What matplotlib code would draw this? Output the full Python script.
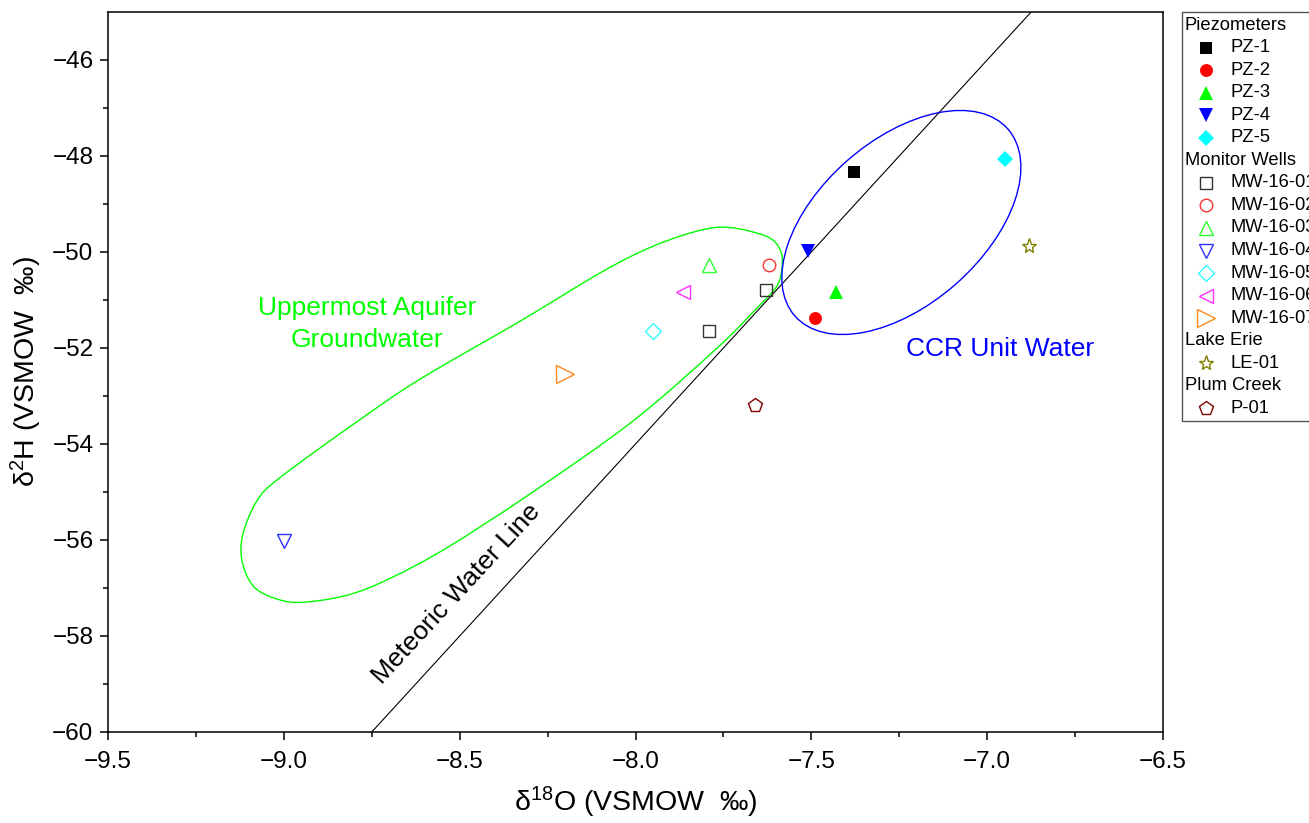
import numpy as np
import matplotlib
matplotlib.use("Agg")
import matplotlib.pyplot as plt
from matplotlib.lines import Line2D
from matplotlib.patches import Ellipse, PathPatch, Rectangle
from matplotlib.path import Path
from matplotlib.transforms import Affine2D

plt.rcParams["font.family"] = ["Liberation Sans", "DejaVu Sans"]
plt.rcParams["mathtext.fontset"] = "custom"
plt.rcParams["mathtext.rm"] = "Liberation Sans"
plt.rcParams["mathtext.it"] = "Liberation Sans:italic"

# --- data (delta18O, delta2H, per mil VSMOW) ---
pz_names = ["PZ-1", "PZ-2", "PZ-3", "PZ-4", "PZ-5"]
pz_d18o = [-7.38, -7.49, -7.43, -7.51, -6.95]
pz_d2h = [-48.33, -51.38, -50.84, -49.97, -48.06]

mw_names = ["MW-16-01", "MW-16-02", "MW-16-03", "MW-16-04", "MW-16-05", "MW-16-06", "MW-16-07"]
mw_d18o = [[-7.63, -7.79], [-7.62], [-7.79], [-9.00], [-7.95], [-7.865], [-8.20]]
mw_d2h = [[-50.80, -51.65], [-50.28], [-50.28], [-56.03], [-51.65], [-50.84], [-52.54]]

le_names = ["LE-01"]
le_d18o = [-6.88]
le_d2h = [-49.88]

pc_names = ["P-01"]
pc_d18o = [-7.66]
pc_d2h = [-53.19]

# global meteoric water line: d2H = 8 * d18O + 10
mwl_slope = 8.0
mwl_intercept = 10.0

# outline drawn around the uppermost aquifer samples
aquifer_x = [-7.950, -7.817, -7.731, -7.626, -7.589, -7.583, -7.598, -7.655, -7.768,
             -8.007, -8.300, -8.536, -8.698, -8.820, -8.954, -9.031, -9.088, -9.119,
             -9.116, -9.076, -9.011, -8.789, -8.613, -8.328, -8.092]
aquifer_y = [-49.88, -49.55, -49.49, -49.68, -49.95, -50.30, -50.71, -51.17, -52.00,
             -53.52, -55.04, -56.16, -56.80, -57.15, -57.30, -57.20, -56.95, -56.43,
             -55.87, -55.18, -54.70, -53.52, -52.65, -51.44, -50.40]

# ellipse around the CCR unit samples (centre in data units, axes in screen pixels)
ccr_center = (-7.244, -49.385)
ccr_size_px = (283.4, 164.4)
ccr_angle = 41.25

# marker styles: (marker, colour, size)
pz_styles = [("s", "#000000", 9.0), ("o", "#FF0000", 9.3), ("^", "#00FF00", 10.5),
             ("v", "#0000FF", 10.5), ("D", "#00FFFF", 8.3)]
mw_styles = [("s", "#333333", 8.8), ("o", "#FF3030", 9.0), ("^", "#30FF30", 10.5),
             ("v", "#3030FF", 10.5), ("D", "#30FFFF", 8.3), ("<", "#FF30FF", 10.5),
             (">", "#FF8A1F", 13.0)]
le_style = ("*", "#808000", 11.0)
pc_style = ("p", "#800000", 10.5)

W, H = 1309, 823
fig = plt.figure(figsize=(W / 100, H / 100), dpi=100)
ax = fig.add_axes([108 / W, 1 - 732 / H, (1163 - 108) / W, (732 - 12) / H])

xmin, xmax = -9.5, -6.5
ymin, ymax = -60.0, -45.0
ax.set_xlim(xmin, xmax)
ax.set_ylim(ymin, ymax)


def smooth_closed_path(xs, ys):
    # closed Catmull-Rom curve written as cubic Bezier segments
    pts = np.column_stack([xs, ys])
    n = len(pts)
    verts = [pts[0]]
    codes = [Path.MOVETO]
    for i in range(n):
        p0, p1, p2, p3 = pts[i - 1], pts[i], pts[(i + 1) % n], pts[(i + 2) % n]
        verts += [p1 + (p2 - p0) / 6, p2 - (p3 - p1) / 6, p2]
        codes += [Path.CURVE4] * 3
    return Path(verts, codes)


# meteoric water line
mwl_x = np.array([xmin, xmax])
ax.plot(mwl_x, mwl_slope * mwl_x + mwl_intercept, color="black", lw=0.8, zorder=2)

# outlines
ax.add_patch(PathPatch(smooth_closed_path(aquifer_x, aquifer_y), facecolor="none",
                       edgecolor="#00FF00", lw=1.0, zorder=2))
sx = (1163 - 108) / (xmax - xmin)
sy = (732 - 12) / (ymax - ymin)
ell_tr = Affine2D().scale(1 / sx, 1 / sy).translate(*ccr_center) + ax.transData
ax.add_patch(Ellipse((0, 0), ccr_size_px[0], ccr_size_px[1], angle=ccr_angle,
                     facecolor="none", edgecolor="#0000FF", lw=1.0, transform=ell_tr, zorder=2))


def draw(x, y, style, filled):
    m, c, s = style
    ax.plot(x, y, ls="none", marker=m, ms=s, mec=c, mfc=c if filled else "none",
            mew=0.0 if filled else 1.0, zorder=3, clip_on=False)


for i in range(len(pz_names)):
    draw([pz_d18o[i]], [pz_d2h[i]], pz_styles[i], True)
for i in range(len(mw_names)):
    draw(mw_d18o[i], mw_d2h[i], mw_styles[i], False)
draw(le_d18o, le_d2h, le_style, False)
draw(pc_d18o, pc_d2h, pc_style, False)

# annotations
ax.text(-8.764, -51.5, "Uppermost Aquifer\nGroundwater", color="#00FF00", fontsize=19,
        ha="center", va="center", linespacing=1.4)
ax.text(-6.964, -52.02, "CCR Unit Water", color="#0000FF", fontsize=19,
        ha="center", va="center")
ax.text(-8.51, -57.125, "Meteoric Water Line", color="black", fontsize=19,
        ha="center", va="center", rotation=47.3, rotation_mode="anchor")

# axes styling
ax.set_xticks(np.arange(-9.5, -6.49, 0.5))
ax.set_xticks(np.arange(-9.5, -6.49, 0.25), minor=True)
ax.set_yticks(np.arange(-60, -45, 2))
ax.set_yticks(np.arange(-60, -45, 1), minor=True)
ax.tick_params(which="both", direction="out", width=1.1, labelsize=17.5, top=False, right=False)
ax.tick_params(which="major", length=6)
ax.tick_params(which="minor", length=3.6)
ax.tick_params(axis="x", pad=7.5)
ax.tick_params(axis="y", pad=4.5)
for sp in ax.spines.values():
    sp.set_linewidth(1.1)
ax.xaxis.set_major_formatter(matplotlib.ticker.FuncFormatter(lambda v, p: f"{v:.1f}".replace("-", "\u2212")))

ax.set_xlabel("\u03b4$^{18}$O (VSMOW  \u2030)", fontsize=20.5, labelpad=9)
ax.set_ylabel("\u03b4$^{2}$H (VSMOW  \u2030)", fontsize=20.5, labelpad=6)

# legend drawn in figure pixel space
def fx(px):
    return px / W


def fy(py):
    return 1 - py / H


fig.add_artist(Rectangle((fx(1182), fy(421)), fx(1330) - fx(1182), fy(12) - fy(421),
                         transform=fig.transFigure, facecolor="white", edgecolor="#555555",
                         lw=1.0, clip_on=False))

legend_rows = [("Piezometers", None, None)]
legend_rows += [(n, s, True) for n, s in zip(pz_names, pz_styles)]
legend_rows += [("Monitor Wells", None, None)]
legend_rows += [(n, s, False) for n, s in zip(mw_names, mw_styles)]
legend_rows += [("Lake Erie", None, None), (le_names[0], le_style, False)]
legend_rows += [("Plum Creek", None, None), (pc_names[0], pc_style, False)]

row_y = 25.0
for label, style, filled in legend_rows:
    if style is None:
        fig.text(fx(1185), fy(row_y), label, fontsize=13.2, ha="left", va="center")
    else:
        m, c, s = style
        fig.add_artist(Line2D([fx(1206)], [fy(row_y)], transform=fig.transFigure, ls="none",
                              marker=m, ms=s, mec=c, mfc=c if filled else "none",
                              mew=0.0 if filled else 1.0))
        fig.text(fx(1231), fy(row_y), label, fontsize=13.2, ha="left", va="center")
    row_y += 22.55

fig.savefig("out.png", dpi=100)
